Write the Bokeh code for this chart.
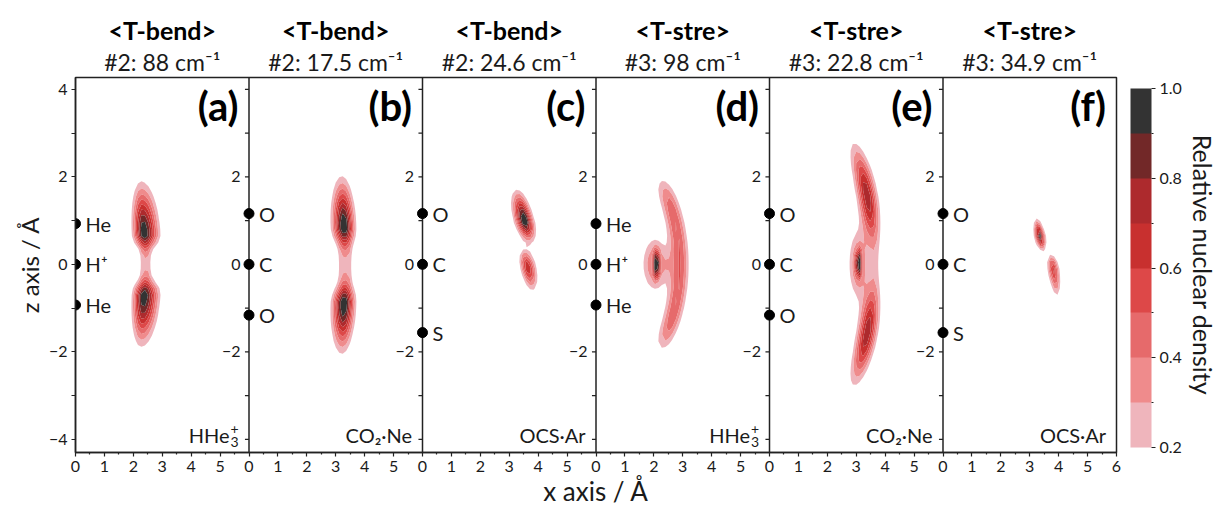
import numpy as np
from bokeh.plotting import figure
from bokeh.models import (Range1d, FixedTicker, ColorBar, LinearColorMapper, LinearAxis,
                          PrintfTickFormatter)
from bokeh.core.properties import value
from bokeh.embed import file_html
from bokeh.resources import INLINE

FONT = "Lato"
INK = "#1a1a1a"

# ---------------- data ----------------
PANEL_WIDTH = 6.0
N_PANELS = 6
PANEL_CENTERS = [3, 9, 15, 21, 27, 33]
PANEL_LETTERS = ["(a)", "(b)", "(c)", "(d)", "(e)", "(f)"]
MODE_NAMES = ["<T-bend>", "<T-bend>", "<T-bend>", "<T-stre>", "<T-stre>", "<T-stre>"]
MODE_FREQS = ["#2: 88 cm⁻¹", "#2: 17.5 cm⁻¹", "#2: 24.6 cm⁻¹",
              "#3: 98 cm⁻¹", "#3: 22.8 cm⁻¹", "#3: 34.9 cm⁻¹"]
MOLECULES = ["HHe", "CO₂·Ne", "OCS·Ar", "HHe", "CO₂·Ne", "OCS·Ar"]
MOL_SUB = ["3", "", "", "3", "", ""]
MOL_SUP = ["+", "", "", "+", "", ""]

ATOM_PANEL = [0, 0, 0, 1, 1, 1, 2, 2, 2, 3, 3, 3, 4, 4, 4, 5, 5, 5]
ATOM_Z = [0.93, 0.0, -0.93, 1.16, 0.0, -1.16, 1.16, 0.0, -1.56,
          0.93, 0.0, -0.93, 1.16, 0.0, -1.16, 1.16, 0.0, -1.56]
ATOM_LABEL = ["He", "H⁺", "He", "O", "C", "O", "O", "C", "S",
              "He", "H⁺", "He", "O", "C", "O", "O", "C", "S"]

X_TICKS = list(range(0, 37))
Y_TICKS = [-4, -2, 0, 2, 4]
Y_MINOR = [-3, -1, 1, 3]
INNER_Y_LABELS = [-2, 0, 2]
INNER_Y_MARKS = [-4, -3, -2, -1, 0, 1, 2, 3, 4]

LEVELS = [0.2, 0.3, 0.4, 0.5, 0.6, 0.7, 0.8, 0.9, 1.001]
LEVEL_COLORS = ["#efb5bc", "#ef8b8c", "#e66a6b", "#dd4848",
                "#c8302f", "#ad2a2d", "#722828", "#333333"]
CB_TICKS = [0.2, 0.4, 0.6, 0.8, 1.0]
CB_MINOR = [0.3, 0.5, 0.7, 0.9]

# density lobes (per panel, in Å)
LOBE_PANEL = [0, 0, 0, 1, 1, 1, 2, 2, 3, 3, 3, 4, 4, 4, 5, 5]
LOBE_X = [2.36, 2.36, 2.43, 3.28, 3.28, 3.33, 3.53, 3.63, 2.09, 2.05, 2.50, 3.08, 3.05, 3.68, 3.35, 3.81]
LOBE_Z = [0.71, -0.70, 0.0, 0.86, -0.89, 0.0, 1.0, -0.06, 0.0, 0.0, 0.0, 0.02, 0.0, 0.0, 0.64, -0.08]
LOBE_SXL = [0.23, 0.23, 0.20, 0.25, 0.25, 0.25, 0.21, 0.16, 0.09, 0.33, 0.15, 0.08, 0.23, 0.10, 0.11, 0.13]
LOBE_SXR = [0.32, 0.32, 0.20, 0.24, 0.24, 0.25, 0.19, 0.19, 0.09, 0.28, 0.15, 0.08, 0.22, 0.10, 0.11, 0.13]
LOBE_SZD = [0.22, 0.66, 0.45, 0.28, 0.64, 0.55, 0.28, 0.33, 0.30, 0.45, 0.25, 0.30, 0.55, 0.40, 0.18, 0.40]
LOBE_SZU = [0.66, 0.22, 0.45, 0.64, 0.28, 0.55, 0.39, 0.24, 0.30, 0.45, 0.25, 0.30, 0.55, 0.40, 0.22, 0.19]
LOBE_AMP = [1.0, 1.0, 0.26, 1.0, 1.0, 0.25, 1.0, 0.68, 0.6, 0.42, 0.10, 0.6, 0.42, 0.06, 1.0, 0.65]
LOBE_SHEAR = [-0.08, 0.08, 0.0, -0.06, 0.06, 0.0, -0.37, -0.31, 0.0, 0.0, 0.0, 0.0, 0.0, 0.0, -0.28, -0.22]
LOBE_POW = [1, 1, 2, 1, 1, 2, 1, 1, 2, 1, 1, 2, 1, 1, 1, 1]

# arc-shaped density (ring segments)
ARC_PANEL = [3, 4, 4]
ARC_CX = [0.0, -2.0, -2.0]
ARC_R = [2.9, 5.6, 5.6]
ARC_SR = [0.22, 0.22, 0.22]
ARC_TH = [0.0, 16.2, -16.2]
ARC_STH = [36.3, 8.0, 8.0]
ARC_POW = [6, 2, 2]
ARC_AMP = [0.5, 0.78, 0.78]

GRID_X = np.arange(0.0, 6.0001, 0.12)
GRID_Z = np.arange(-4.3, 4.2701, 0.15)

# ---------------- figure ----------------
p = figure(x_range=Range1d(0, 36), y_range=Range1d(-4.3, 4.27),
           frame_width=1041, frame_height=375,
           min_border_left=75, min_border_top=77, min_border_bottom=10, min_border_right=0,
           output_backend="svg", toolbar_location=None, background_fill_color="white",
           border_fill_color="white")
p.xgrid.visible = False
p.ygrid.visible = False
p.outline_line_color = "#222222"
p.outline_line_width = 1.5

for ax in (p.xaxis[0], p.yaxis[0]):
    ax.axis_line_color = "#222222"
    ax.axis_line_width = 1.5
    ax.major_tick_line_color = "#222222"
    ax.minor_tick_line_color = "#222222"
    ax.major_tick_line_width = 1.2
    ax.minor_tick_line_width = 1.2
    ax.major_tick_in = 0
    ax.minor_tick_in = 0
    ax.major_label_text_font = FONT
    ax.major_label_text_font_size = "16px"
    ax.major_label_text_color = INK
    ax.axis_label_text_font = FONT
    ax.axis_label_text_font_style = "normal"
    ax.axis_label_text_color = INK

p.xaxis.ticker = FixedTicker(ticks=X_TICKS, minor_ticks=[t + 0.5 for t in X_TICKS[:-1]])
p.xaxis.major_label_overrides = {t: (str(t % 6) if t < 36 else "6") for t in X_TICKS}
p.xaxis.major_tick_out = 4
p.xaxis.minor_tick_out = 2
p.xaxis.major_label_standoff = 4
p.xaxis.axis_label = "x axis / Å"
p.xaxis.axis_label_text_font_size = "26px"
p.xaxis.axis_label_standoff = 0

p.yaxis.ticker = FixedTicker(ticks=Y_TICKS, minor_ticks=Y_MINOR)
p.yaxis.major_label_overrides = {t: (str(t).replace("-", "−")) for t in Y_TICKS}
p.yaxis.major_tick_out = 4
p.yaxis.minor_tick_out = 4
p.yaxis.major_label_standoff = 4
p.yaxis.axis_label = "z axis / Å"
p.yaxis.axis_label_text_font_size = "24px"
p.yaxis.axis_label_standoff = 2

# titles above the panels, drawn as label rows of two extra axes
ax_freq = LinearAxis(ticker=FixedTicker(ticks=PANEL_CENTERS, minor_ticks=[]),
                     major_label_overrides={c: f for c, f in zip(PANEL_CENTERS, MODE_FREQS)},
                     axis_line_color=None, major_tick_line_color=None, minor_tick_line_color=None,
                     major_tick_out=0, minor_tick_out=0, major_label_standoff=2,
                     major_label_text_font=FONT, major_label_text_font_size="23px",
                     major_label_text_color=INK)
p.add_layout(ax_freq, "above")
ax_mode = LinearAxis(ticker=FixedTicker(ticks=PANEL_CENTERS, minor_ticks=[]),
                     major_label_overrides={c: m for c, m in zip(PANEL_CENTERS, MODE_NAMES)},
                     axis_line_color=None, major_tick_line_color=None, minor_tick_line_color=None,
                     major_tick_out=0, minor_tick_out=0, major_label_standoff=0,
                     major_label_text_font=FONT, major_label_text_font_size="25px",
                     major_label_text_font_style="bold", major_label_text_color="black")
p.add_layout(ax_mode, "above")

# density contours
GX2, GZ2 = np.meshgrid(GRID_X, GRID_Z)
for k in range(N_PANELS):
    dens = np.zeros_like(GX2)
    for i, pan in enumerate(LOBE_PANEL):
        if pan != k:
            continue
        dz = GZ2 - LOBE_Z[i]
        dx = GX2 - LOBE_X[i] - LOBE_SHEAR[i] * dz
        sx = np.where(dx < 0, LOBE_SXL[i], LOBE_SXR[i])
        sz = np.where(dz < 0, LOBE_SZD[i], LOBE_SZU[i])
        q2 = (dx / sx) ** 2 + (dz / sz) ** 2
        dens += LOBE_AMP[i] * np.exp(-0.5 * q2 ** LOBE_POW[i])
    for i, pan in enumerate(ARC_PANEL):
        if pan != k:
            continue
        r = np.hypot(GX2 - ARC_CX[i], GZ2)
        th = np.degrees(np.arctan2(GZ2, GX2 - ARC_CX[i]))
        dens += (ARC_AMP[i] * np.exp(-0.5 * ((r - ARC_R[i]) / ARC_SR[i]) ** 2)
                 * np.exp(-0.5 * np.abs((th - ARC_TH[i]) / ARC_STH[i]) ** ARC_POW[i]))
    dens = dens / dens.max()
    p.contour(x=GRID_X + PANEL_WIDTH * k, y=GRID_Z, z=dens, levels=LEVELS,
              fill_color=LEVEL_COLORS, line_color=None)

# inner y axes (panel boundaries)
bx = [PANEL_WIDTH * k for k in range(1, N_PANELS)]
p.segment(x0=bx, y0=[-4.3] * len(bx), x1=bx, y1=[4.27] * len(bx),
          line_color="#222222", line_width=1.5)
tx0, tx1, ty = [], [], []
for b in bx:
    for m in INNER_Y_MARKS:
        tx0.append(b - 0.14)
        tx1.append(b)
        ty.append(m)
p.segment(x0=tx0, y0=ty, x1=tx1, y1=ty, line_color="#222222", line_width=1.2)
lab_x, lab_y, lab_t = [], [], []
for b in bx:
    for m in INNER_Y_LABELS:
        lab_x.append(b - 0.29)
        lab_y.append(m)
        lab_t.append(str(m).replace("-", "−"))
p.text(x=lab_x, y=lab_y, text=lab_t, text_font=value(FONT), text_font_size=value("16px"),
       text_align="right", text_baseline="middle", text_color=INK)

# atoms
ax_ = [PANEL_WIDTH * pn for pn in ATOM_PANEL]
p.scatter(x=ax_, y=ATOM_Z, size=10, fill_color="black", line_color="black")
p.text(x=[a + 0.35 for a in ax_], y=ATOM_Z, text=ATOM_LABEL, text_font=value(FONT),
       text_font_size=value("20px"), text_align="left", text_baseline="middle", text_color=INK)

# panel letters
p.text(x=[PANEL_WIDTH * k + 5.64 for k in range(N_PANELS)], y=[3.62] * N_PANELS,
       text=PANEL_LETTERS, text_font=value(FONT), text_font_size=value("40px"),
       text_font_style="bold", text_align="right", text_baseline="middle", text_color="black")

# molecule labels
mol_right = [PANEL_WIDTH * k + (5.33 if MOL_SUB[k] else 5.64) for k in range(N_PANELS)]
p.text(x=mol_right, y=[-3.91] * N_PANELS, text=MOLECULES, text_font=value(FONT),
       text_font_size=value("20px"), text_align="right", text_baseline="alphabetic", text_color=INK)
sub_k = [k for k in range(N_PANELS) if MOL_SUB[k]]
p.text(x=[PANEL_WIDTH * k + 5.36 for k in sub_k], y=[-4.06] * len(sub_k),
       text=[MOL_SUB[k] for k in sub_k], text_font=value(FONT), text_font_size=value("14px"),
       text_align="left", text_baseline="alphabetic", text_color=INK)
p.text(x=[PANEL_WIDTH * k + 5.36 for k in sub_k], y=[-3.77] * len(sub_k),
       text=[MOL_SUP[k] for k in sub_k], text_font=value(FONT), text_font_size=value("14px"),
       text_align="left", text_baseline="middle", text_color=INK)

# colour bar
mapper = LinearColorMapper(palette=LEVEL_COLORS, low=0.2, high=1.0)
cb = ColorBar(color_mapper=mapper, ticker=FixedTicker(ticks=CB_TICKS, minor_ticks=CB_MINOR),
              formatter=PrintfTickFormatter(format="%.1f"), width=21, height=359,
              location=(11, 2), margin=0, padding=3,
              major_label_text_font=FONT, major_label_text_font_size="16px",
              major_label_text_color=INK,
              major_tick_out=4, major_tick_in=0, minor_tick_out=2, minor_tick_in=0,
              major_tick_line_color="#222222", minor_tick_line_color="#222222",
              label_standoff=4, bar_line_color=None, border_line_color=None,
              background_fill_color=None)
p.add_layout(cb, "right")
ax_cb = LinearAxis(ticker=FixedTicker(ticks=[], minor_ticks=[]), axis_line_color=None,
                   major_tick_line_color=None, minor_tick_line_color=None,
                   major_tick_out=0, minor_tick_out=0, major_label_text_font_size="0px",
                   axis_label="Relative nuclear density", axis_label_standoff=0,
                   axis_label_text_font=FONT, axis_label_text_font_size="25px",
                   axis_label_text_font_style="normal", axis_label_text_color=INK)
p.add_layout(ax_cb, "right")

open("out.html", "w").write(file_html(p, INLINE))
